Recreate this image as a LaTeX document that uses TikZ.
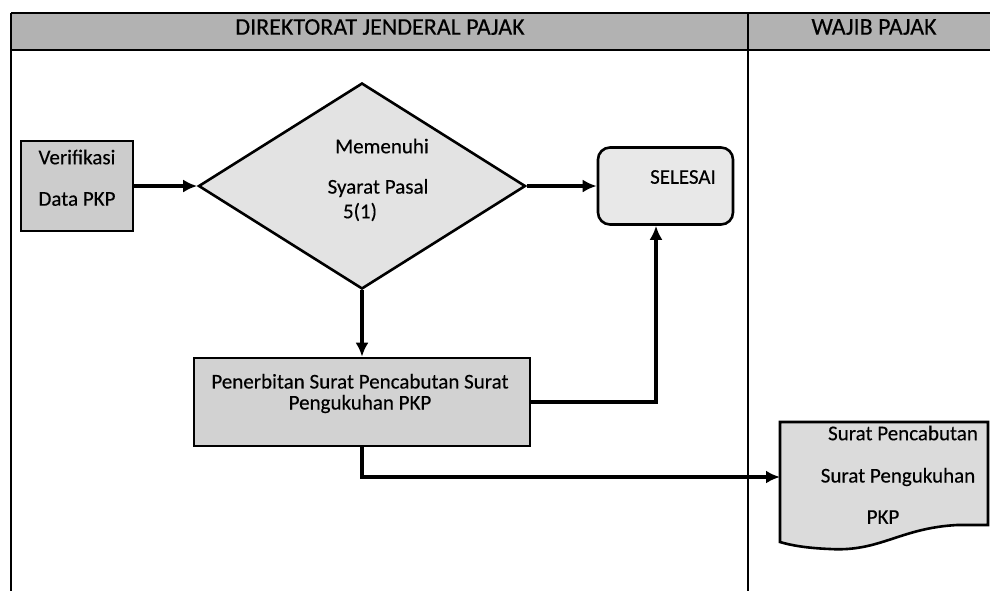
\documentclass[tikz,border=0pt]{standalone}
\usepackage{fontspec}
\setmainfont{Carlito}[UprightFeatures={FakeBold=0.3}]
\usepackage{tikz}
\usetikzlibrary{shapes.geometric,arrows.meta}

\tikzset{
    proses/.style={draw, line width=1.3pt, fill=gray!30, inner sep=0pt},
    teks/.style={inner sep=0pt, font=\fontsize{10.5}{12}\selectfont},
    judul/.style={inner sep=0pt, font=\fontsize{12}{14}\selectfont},
    panah/.style={line width=1.7pt, -{Latex[length=7pt,width=6.5pt]}}
}

\begin{document}
\begin{tikzpicture}[x=0.5pt,y=-0.5pt]

    \useasboundingbox (0,0) rectangle (990,591);

    % Header
    \fill[gray!60] (11,13) rectangle (990,50);
    \draw[line width=0.9pt] (11,13) -- (990,13);
    \draw[line width=1.2pt] (11,50) -- (990,50);
    \draw[line width=1.2pt] (11,13) -- (11,591);
    \draw[line width=1.2pt] (748,13) -- (748,591);
    \node[judul] (djp) at (380,27) {DIREKTORAT JENDERAL PAJAK};
    \node[judul] (wp) at (874,27) {WAJIB PAJAK};

    % Shapes
    \node[proses, fill=gray!40, minimum width=56pt, minimum height=45pt] (verif) at (77,186) {};
    \node[teks] (verif1) at (77,157) {Verifikasi};
    \node[teks] (verif2) at (77,199) {Data PKP};

    \node[proses, diamond, fill=gray!22, minimum width=163.5pt, minimum height=103pt] (syarat) at (362,186) {};
    \node[teks] (syarat1) at (382,146) {Memenuhi};
    \node[teks] (syarat2) at (378,188) {Syarat Pasal};
    \node[teks] (syarat3) at (360,212) {5(1)};

    \node[proses, rounded corners=6pt, fill=gray!18, minimum width=67.5pt, minimum height=38.5pt] (selesai) at (665.5,186) {};
    \node[teks] (selesai1) at (683,177) {SELESAI};

    \node[proses, fill=gray!35, minimum width=168pt, minimum height=44pt] (terbit) at (362,402) {};
    \node[teks, align=center, font=\fontsize{10.5}{10.5}\selectfont] (terbit1) at (360,393.5) {Penerbitan Surat Pencabutan Surat\\Pengukuhan PKP};

    % Document
    \filldraw[line width=1.3pt, fill=gray!28] (780,422) -- (988,422) -- (988,525) -- (957,525)
        .. controls (900,528) and (880,552) .. (830,549)
        .. controls (805,548) and (790,545) .. (780,542) -- cycle;
    \coordinate (dokumen) at (780,477);
    \node[teks] (dok1) at (903,433) {Surat Pencabutan};
    \node[teks] (dok2) at (898,477) {Surat Pengukuhan};
    \node[teks] (dok3) at (883,517) {PKP};

    % Arrows
    \draw[panah] (verif.east) -- (syarat.west);
    \draw[panah] (syarat.east) -- (selesai.west);
    \draw[panah] (syarat.south) -- (terbit.north);
    \draw[panah] (terbit.east) -| ([xshift=-4.75pt]selesai.south);
    \draw[panah] (terbit.south) |- (dokumen);

\end{tikzpicture}
\end{document}
